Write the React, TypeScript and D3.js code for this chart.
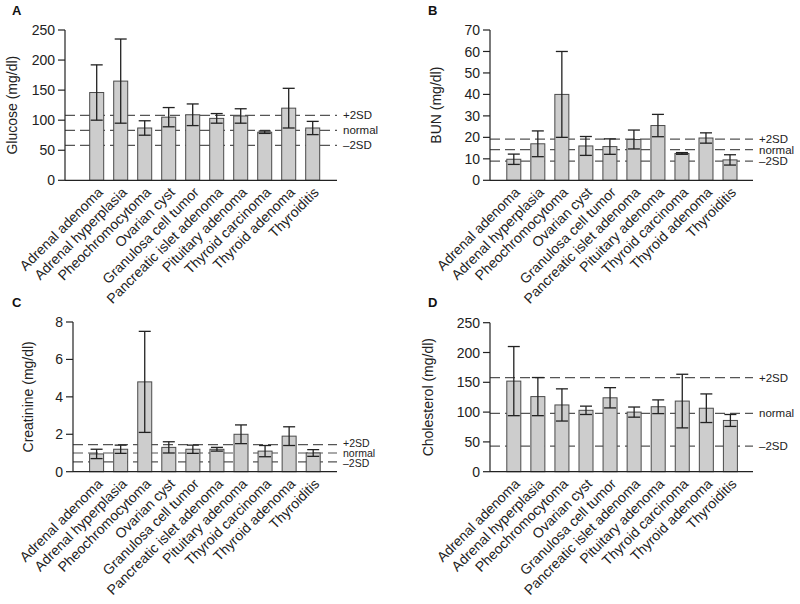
import React from "react";
import * as d3 from "d3";

const categories = [
  "Adrenal adenoma",
  "Adrenal hyperplasia",
  "Pheochromocytoma",
  "Ovarian cyst",
  "Granulosa cell tumor",
  "Pancreatic islet adenoma",
  "Pituitary adenoma",
  "Thyroid carcinoma",
  "Thyroid adenoma",
  "Thyroiditis",
];

const glucoseMean = [146, 165, 87, 105, 109, 103, 107, 80, 120, 87];
const glucoseSD = [46, 70, 12, 16, 18, 8, 12, 2, 33, 11];
const glucoseRef = [108, 83, 58];
const glucoseTicks = [0, 50, 100, 150, 200, 250];

const bunMean = [9.8, 17, 40, 16, 15.7, 19, 25.5, 12.5, 19.7, 9.5];
const bunSD = [2.4, 6, 20, 4.4, 3.6, 4.4, 5.2, 0.4, 2.4, 2.4];
const bunRef = [19.2, 14.3, 8.9];
const bunTicks = [0, 10, 20, 30, 40, 50, 60, 70];

const creatMean = [0.95, 1.2, 4.8, 1.3, 1.2, 1.2, 2.0, 1.1, 1.9, 1.0];
const creatSD = [0.25, 0.22, 2.7, 0.3, 0.22, 0.1, 0.5, 0.3, 0.5, 0.18];
const creatRef = [1.45, 1.0, 0.52];
const creatTicks = [0, 2, 4, 6, 8];

const cholMean = [152, 126, 112, 103, 124, 100, 109, 118.5, 106.5, 86];
const cholSD = [58, 32, 27, 7, 17, 8.5, 11.5, 45, 24, 10];
const cholRef = [158, 98, 43];
const cholTicks = [0, 50, 100, 150, 200, 250];

const refLabels = ["+2SD", "normal", "\u20132SD"];

const FONT = "'Liberation Sans', Arial, Helvetica, sans-serif";

type PanelProps = {
  letter: string;
  letterX: number;
  letterY: number;
  yLabel: string;
  yLabelX: number;
  axisX: number;
  axisEnd: number;
  firstCenter: number;
  lastCenter: number;
  yTop: number;
  yBottom: number;
  means: number[];
  sds: number[];
  refs: number[];
  ticks: number[];
  refFont: number;
  refShift: number[];
};

function Panel(p: PanelProps) {
  const x = d3.scalePoint<string>().domain(categories).range([p.firstCenter, p.lastCenter]).padding(0);
  const maxV = p.ticks[p.ticks.length - 1];
  const y = d3.scaleLinear().domain([0, maxV]).range([p.yBottom, p.yTop]);
  const barW = 14;
  const capW = 12;
  const y0 = y(0);
  return (
    <g fontFamily={FONT}>
      <text x={p.letterX} y={p.letterY} fontSize={13} fontWeight="bold" fill="#111">
        {p.letter}
      </text>
      <text
        transform={`translate(${p.yLabelX},${(p.yTop + p.yBottom) / 2}) rotate(-90)`}
        textAnchor="middle"
        fontSize={14}
        fill="#222"
      >
        {p.yLabel}
      </text>
      {p.refs.map((r, i) => (
        <g key={"r" + i}>
          <line
            x1={p.axisX}
            x2={p.axisEnd}
            y1={y(r)}
            y2={y(r)}
            stroke="#555"
            strokeWidth={1.2}
            strokeDasharray="10,5"
          />
          <text
            x={p.axisEnd + 6}
            y={y(r) + p.refShift[i]}
            dy="0.35em"
            fontSize={p.refFont}
            fill="#222"
          >
            {refLabels[i]}
          </text>
        </g>
      ))}
      {categories.map((c, i) => (
        <rect
          key={"b" + i}
          x={(x(c) as number) - barW / 2}
          y={y(p.means[i])}
          width={barW}
          height={y0 - y(p.means[i])}
          fill="#cdcdcd"
          stroke="#4a4a4a"
          strokeWidth={1}
        />
      ))}
      {categories.map((c, i) => {
        const cx = x(c) as number;
        const hi = y(p.means[i] + p.sds[i]);
        const lo = y(p.means[i] - p.sds[i]);
        return (
          <g key={"e" + i} stroke="#222" strokeWidth={1.3}>
            <line x1={cx} x2={cx} y1={hi} y2={lo} />
            <line x1={cx - capW / 2} x2={cx + capW / 2} y1={hi} y2={hi} />
            <line x1={cx - capW / 2} x2={cx + capW / 2} y1={lo} y2={lo} />
          </g>
        );
      })}
      <line x1={p.axisX} x2={p.axisX} y1={p.yTop} y2={y0} stroke="#222" strokeWidth={1.2} />
      <line x1={p.axisX} x2={p.axisEnd} y1={y0} y2={y0} stroke="#222" strokeWidth={1.2} />
      {p.ticks.map((t) => (
        <g key={"t" + t}>
          <line x1={p.axisX - 7} x2={p.axisX} y1={y(t)} y2={y(t)} stroke="#222" strokeWidth={1.2} />
          <text x={p.axisX - 10} y={y(t)} dy="0.36em" textAnchor="end" fontSize={14} fill="#222">
            {t}
          </text>
        </g>
      ))}
      {categories.map((c, i) => (
        <text
          key={"l" + i}
          transform={`translate(${(x(c) as number) + 7},${y0 + 13}) rotate(-45)`}
          textAnchor="end"
          fontSize={14}
          fill="#222"
        >
          {c}
        </text>
      ))}
    </g>
  );
}

export default function App() {
  return (
    <svg
      width={800}
      height={604}
      style={{ position: "absolute", left: 0, top: 0, background: "#fff" }}
    >
      <rect x={0} y={0} width={800} height={604} fill="#fff" />
      <Panel
        letter="A"
        letterX={12}
        letterY={15}
        yLabel="Glucose (mg/dl)"
        yLabelX={17}
        axisX={65}
        axisEnd={337}
        firstCenter={96.7}
        lastCenter={312.7}
        yTop={30}
        yBottom={180.3}
        means={glucoseMean}
        sds={glucoseSD}
        refs={glucoseRef}
        ticks={glucoseTicks}
        refFont={11.5}
        refShift={[0, 0, 0]}
      />
      <Panel
        letter="B"
        letterX={428}
        letterY={15}
        yLabel="BUN (mg/dl)"
        yLabelX={441}
        axisX={490}
        axisEnd={753}
        firstCenter={513.8}
        lastCenter={730}
        yTop={30}
        yBottom={180.3}
        means={bunMean}
        sds={bunSD}
        refs={bunRef}
        ticks={bunTicks}
        refFont={11.5}
        refShift={[0, 0, 0]}
      />
      <Panel
        letter="C"
        letterX={12}
        letterY={307}
        yLabel="Creatinine (mg/dl)"
        yLabelX={33}
        axisX={73}
        axisEnd={337}
        firstCenter={96.6}
        lastCenter={313.2}
        yTop={322}
        yBottom={471.7}
        means={creatMean}
        sds={creatSD}
        refs={creatRef}
        ticks={creatTicks}
        refFont={10.5}
        refShift={[-1.5, 0, 1]}
      />
      <Panel
        letter="D"
        letterX={428}
        letterY={307}
        yLabel="Cholesterol (mg/dl)"
        yLabelX={433}
        axisX={490}
        axisEnd={753}
        firstCenter={513.8}
        lastCenter={730.4}
        yTop={322.7}
        yBottom={471.7}
        means={cholMean}
        sds={cholSD}
        refs={cholRef}
        ticks={cholTicks}
        refFont={11.5}
        refShift={[0, 0, 0]}
      />
    </svg>
  );
}
